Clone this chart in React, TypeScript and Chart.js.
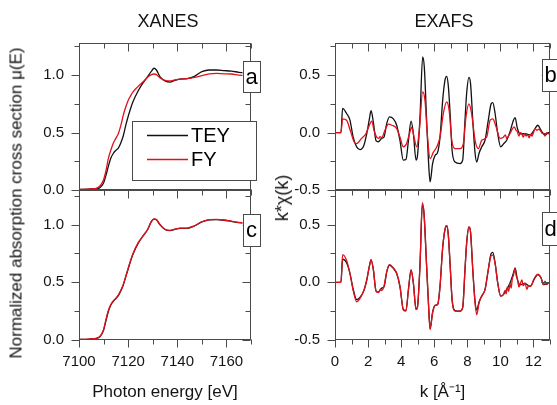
import React, { useEffect, useRef } from 'react';
import { Chart, registerables } from 'chart.js';

Chart.register(...registerables);

const FONT = '"Liberation Sans", Arial, Helvetica, sans-serif';
Chart.defaults.font.family = FONT;

const W = 557;
const H = 405;

// ---------------- DATA ----------------
const seriesNames = ['TEY', 'FY'];
const panelTags = ['a', 'b', 'c', 'd'];
const columnTitles = ['XANES', 'EXAFS'];
const xanesXTitle = 'Photon energy [eV]';
const exafsXTitle = 'k [Å⁻¹]';
const xanesYTitle = 'Normalized absorption cross section μ(E)';
const exafsYTitle = 'k*χ(k)';

// panel a: XANES, TEY vs FY (energy eV, mu)
const xanesA_TEY: [number, number][] = [
  [7100, 0.005], [7104, 0.008], [7107, 0.012], [7108.5, 0.02], [7110, 0.06], [7111, 0.13], [7112, 0.21],
  [7113, 0.28], [7114, 0.32], [7115, 0.345], [7116, 0.365], [7117, 0.41], [7118, 0.47], [7119, 0.56],
  [7120, 0.64], [7121, 0.71], [7122, 0.77], [7124, 0.86], [7126, 0.93], [7128, 0.99], [7129.5, 1.035],
  [7130.5, 1.06], [7131.5, 1.045], [7133, 0.985], [7135, 0.95], [7137, 0.94], [7139, 0.955], [7141, 0.965],
  [7144, 0.97], [7147, 0.99], [7150, 1.03], [7153, 1.045], [7156, 1.045], [7159, 1.04], [7162, 1.035],
  [7165, 1.025], [7169, 1.015],
];
const xanesA_FY: [number, number][] = [
  [7100, 0.005], [7104, 0.008], [7107, 0.015], [7108.5, 0.035], [7110, 0.09], [7111, 0.17], [7112, 0.28],
  [7113, 0.35], [7114, 0.41], [7115, 0.45], [7116, 0.49], [7117, 0.56], [7118, 0.65], [7119, 0.72],
  [7120, 0.78], [7121, 0.82], [7122, 0.855], [7124, 0.9], [7126, 0.94], [7128, 0.985], [7129.5, 1.005],
  [7130.5, 1.01], [7131.5, 1.005], [7133, 0.975], [7135, 0.955], [7137, 0.95], [7139, 0.958], [7141, 0.965],
  [7144, 0.97], [7147, 0.98], [7150, 0.995], [7153, 1.012], [7156, 1.015], [7159, 1.012], [7162, 1.01],
  [7165, 1.0], [7169, 0.995],
];
// panel c: XANES after correction
const xanesC_TEY: [number, number][] = [
  [7100, 0.005], [7104, 0.008], [7107, 0.014], [7108.5, 0.028], [7110, 0.085], [7111, 0.17], [7112, 0.25],
  [7113, 0.305], [7114, 0.335], [7115, 0.36], [7116, 0.385], [7117, 0.425], [7118, 0.475], [7119, 0.545],
  [7120, 0.615], [7121, 0.685], [7122, 0.745], [7124, 0.835], [7126, 0.9], [7128, 0.96], [7129.5, 1.028],
  [7130.5, 1.048], [7131.5, 1.042], [7133, 0.998], [7135, 0.958], [7137, 0.948], [7139, 0.958], [7141, 0.968],
  [7144, 0.968], [7147, 0.988], [7150, 1.023], [7153, 1.041], [7156, 1.043], [7159, 1.038], [7162, 1.028],
  [7165, 1.018], [7169, 1.008],
];
const xanesC_FY: [number, number][] = [
  [7100, 0.005], [7104, 0.008], [7107, 0.015], [7108.5, 0.03], [7110, 0.09], [7111, 0.18], [7112, 0.26],
  [7113, 0.31], [7114, 0.34], [7115, 0.36], [7116, 0.39], [7117, 0.43], [7118, 0.48], [7119, 0.55],
  [7120, 0.62], [7121, 0.69], [7122, 0.75], [7124, 0.84], [7126, 0.9], [7128, 0.96], [7129.5, 1.03],
  [7130.5, 1.05], [7131.5, 1.045], [7133, 1.0], [7135, 0.96], [7137, 0.95], [7139, 0.96], [7141, 0.97],
  [7144, 0.97], [7147, 0.99], [7150, 1.025], [7153, 1.043], [7156, 1.045], [7159, 1.04], [7162, 1.03],
  [7165, 1.02], [7169, 1.01],
];

// panel b: EXAFS k*chi(k), TEY vs FY
const exafsB_TEY: [number, number][] = [
  [0, 0], [0.36, 0], [0.46, 0.21], [0.7, 0.166], [0.9, 0.11], [1.1, -0.04], [1.31, -0.125], [1.51, -0.148],
  [1.75, -0.11], [1.92, -0.01], [2.08, 0.12], [2.18, 0.19], [2.32, 0.09], [2.48, -0.07], [2.62, -0.08],
  [2.82, -0.05], [2.96, -0.04], [3.13, 0.08], [3.3, 0.136], [3.53, 0.12], [3.73, 0.064], [3.93, -0.07],
  [4.13, -0.24], [4.29, -0.235], [4.44, -0.07], [4.6, 0.1], [4.74, -0.01], [4.9, -0.24], [4.98, -0.21],
  [5.14, 0.137], [5.3, 0.66], [5.4, 0.57], [5.54, 0.108], [5.65, -0.24], [5.75, -0.43], [5.9, -0.27],
  [6.05, -0.2], [6.21, -0.17], [6.35, -0.04], [6.51, 0.28], [6.65, 0.456], [6.75, 0.49], [6.85, 0.41],
  [6.96, 0.166], [7.08, -0.154], [7.26, -0.256], [7.56, -0.27], [7.72, -0.24], [7.86, 0.108], [7.96, 0.34],
  [8.1, 0.48], [8.2, 0.42], [8.33, 0.108], [8.47, -0.18], [8.57, -0.256], [8.71, -0.18], [8.87, -0.125],
  [9.07, -0.067], [9.27, 0.108], [9.44, 0.25], [9.54, 0.26], [9.68, 0.166], [9.84, -0.01], [10.02, -0.125],
  [10.18, -0.1], [10.38, -0.067], [10.58, 0.006], [10.79, 0.108], [10.89, 0.13], [11.03, 0.035],
  [11.19, -0.01], [11.49, -0.01], [11.8, -0.02], [12.1, 0.035], [12.26, 0.064], [12.46, 0.02], [12.6, -0.01],
  [12.75, -0.02], [12.9, 0], [13, 0],
];
const exafsB_FY: [number, number][] = [
  [0, 0], [0.36, 0], [0.46, 0.12], [0.7, 0.107], [0.95, 0.006], [1.15, -0.08], [1.31, -0.096], [1.61, -0.05],
  [1.87, -0.01], [2.08, 0.064], [2.22, 0.1], [2.36, 0.02], [2.52, -0.04], [2.65, -0.05], [2.72, -0.035],
  [2.82, -0.045], [3.02, 0.02], [3.23, 0.073], [3.43, 0.064], [3.73, 0.035], [3.93, -0.04], [4.13, -0.125],
  [4.33, -0.096], [4.5, -0.01], [4.64, 0.044], [4.78, -0.04], [4.94, -0.125], [5.1, 0.02], [5.3, 0.355],
  [5.44, 0.28], [5.58, -0.01], [5.75, -0.227], [5.95, -0.17], [6.15, -0.125], [6.35, -0.04], [6.55, 0.166],
  [6.75, 0.267], [6.9, 0.195], [7.06, -0.067], [7.26, -0.14], [7.56, -0.14], [7.76, -0.096], [7.92, 0.137],
  [8.1, 0.25], [8.26, 0.166], [8.47, -0.067], [8.67, -0.14], [8.87, -0.067], [9.17, -0.04], [9.38, 0.108],
  [9.54, 0.12], [9.74, 0.05], [9.98, -0.05], [10.18, -0.04], [10.3, -0.02], [10.38, -0.05], [10.48, -0.03],
  [10.58, -0.01], [10.68, 0.02], [10.83, 0.05], [10.95, 0.02], [11.03, 0.006], [11.12, -0.03], [11.2, 0.0],
  [11.29, -0.01], [11.38, -0.04], [11.47, -0.01], [11.56, -0.03], [11.65, -0.02], [11.74, -0.045],
  [11.83, -0.015], [11.92, -0.03], [12.0, 0.0], [12.1, 0.035], [12.2, 0.02], [12.32, 0.03], [12.4, 0.02],
  [12.5, 0.0], [12.6, -0.01], [12.7, -0.03], [12.8, 0.0], [12.9, -0.01], [13, 0],
];
// panel d: EXAFS after correction
const exafsD_TEY: [number, number][] = [
  [0, 0], [0.36, 0], [0.46, 0.2], [0.7, 0.17], [0.9, 0.08], [1.1, -0.06], [1.31, -0.15], [1.51, -0.13],
  [1.75, -0.07], [1.92, 0.02], [2.08, 0.14], [2.18, 0.195], [2.32, 0.11], [2.48, -0.075], [2.62, -0.085],
  [2.82, -0.05], [2.96, -0.04], [3.13, 0.09], [3.29, 0.15], [3.53, 0.12], [3.73, 0.075], [3.93, -0.04],
  [4.13, -0.235], [4.29, -0.245], [4.44, -0.064], [4.6, 0.105], [4.74, -0.01], [4.9, -0.235], [4.98, -0.22],
  [5.14, 0.15], [5.28, 0.67], [5.38, 0.6], [5.54, 0.14], [5.65, -0.18], [5.75, -0.4], [5.9, -0.26],
  [6.05, -0.2], [6.21, -0.19], [6.35, -0.035], [6.51, 0.3], [6.65, 0.457], [6.75, 0.49], [6.85, 0.413],
  [6.96, 0.153], [7.08, -0.15], [7.26, -0.245], [7.56, -0.25], [7.72, -0.22], [7.86, 0.11], [7.96, 0.34],
  [8.1, 0.48], [8.2, 0.43], [8.33, 0.11], [8.47, -0.17], [8.57, -0.24], [8.71, -0.17], [8.87, -0.12],
  [9.07, -0.064], [9.27, 0.11], [9.44, 0.25], [9.54, 0.26], [9.68, 0.17], [9.84, -0.006], [10.02, -0.12],
  [10.18, -0.107], [10.38, -0.064], [10.58, -0.006], [10.79, 0.08], [10.89, 0.124], [11.03, 0.023],
  [11.19, -0.02], [11.49, -0.01], [11.8, -0.035], [12.1, 0.04], [12.26, 0.066], [12.46, 0.037], [12.6, -0.02],
  [12.9, -0.006], [13, 0],
];
const exafsD_FY: [number, number][] = [
  [0, 0], [0.36, 0], [0.46, 0.24], [0.7, 0.19], [0.9, 0.08], [1.1, -0.07], [1.31, -0.17], [1.51, -0.14],
  [1.75, -0.07], [1.92, 0.02], [2.08, 0.14], [2.18, 0.197], [2.32, 0.11], [2.48, -0.078], [2.62, -0.09],
  [2.75, -0.06], [2.82, -0.07], [2.96, -0.035], [3.13, 0.095], [3.29, 0.153], [3.53, 0.124], [3.73, 0.08],
  [3.93, -0.035], [4.13, -0.24], [4.29, -0.25], [4.44, -0.064], [4.6, 0.11], [4.74, -0.006], [4.9, -0.237],
  [4.98, -0.22], [5.14, 0.153], [5.28, 0.69], [5.38, 0.6], [5.54, 0.14], [5.65, -0.18], [5.75, -0.41],
  [5.9, -0.266], [6.05, -0.2], [6.21, -0.19], [6.35, -0.035], [6.51, 0.3], [6.65, 0.457], [6.75, 0.49],
  [6.85, 0.413], [6.96, 0.153], [7.08, -0.15], [7.26, -0.25], [7.56, -0.25], [7.72, -0.22], [7.86, 0.11],
  [7.96, 0.34], [8.1, 0.48], [8.2, 0.43], [8.33, 0.11], [8.47, -0.18], [8.57, -0.28], [8.71, -0.18],
  [8.87, -0.12], [9.07, -0.064], [9.27, 0.11], [9.44, 0.23], [9.54, 0.235], [9.68, 0.16], [9.84, -0.006],
  [10.02, -0.12], [10.18, -0.107], [10.28, -0.07], [10.35, -0.1], [10.42, -0.04], [10.5, -0.08], [10.58, -0.01],
  [10.65, -0.05], [10.72, 0.03], [10.79, 0.06], [10.89, 0.12], [10.95, 0.06], [11.03, 0.03], [11.12, -0.04],
  [11.19, -0.02], [11.3, 0.02], [11.38, -0.03], [11.49, -0.006], [11.6, -0.06], [11.7, -0.03], [11.8, -0.035],
  [11.9, -0.02], [12.0, 0.02], [12.1, 0.046], [12.26, 0.07], [12.46, 0.04], [12.6, -0.02], [12.7, 0.01],
  [12.8, -0.02], [12.9, -0.006], [13, 0],
];

// axis ranges and ticks
const xanesXRange = [7100, 7170];
const xanesXMajor = 20;
const xanesXMinor = 10;
const exafsXRange = [0, 13];
const exafsXMajor = 2;
const exafsXMinor = 1;
const xanesYRangeTop = [0, 1.28];
const xanesYRangeBottom = [0, 1.3];
const exafsYRangeTop = [-0.5, 0.78];
const exafsYRangeBottom = [-0.5, 0.8];
const yMajor = 0.5;
const yMinor = 0.25;

const COLORS = ['#111111', '#e3101a'];
const FRAME = '#4a4a4a';
const TEXT = '#141414';

type Area = { l: number; t: number; r: number; b: number };
type Spec = {
  area: Area;
  xRange: number[];
  xMajor: number;
  xMinor: number;
  yRange: number[];
  showX: boolean;
  xTitle?: string;
  series: [number, number][][];
  tag: string;
  tagTop: number;
  tagH: number;
  legend?: boolean;
  yFmt: (v: number) => string;
};

const specs: Spec[] = [
  {
    area: { l: 79, t: 43, r: 251, b: 190 }, xRange: xanesXRange, xMajor: xanesXMajor, xMinor: xanesXMinor,
    yRange: xanesYRangeTop, showX: false, series: [xanesA_TEY, xanesA_FY], tag: panelTags[0], tagTop: 61, tagH: 31,
    legend: true, yFmt: (v) => v.toFixed(1),
  },
  {
    area: { l: 335, t: 43, r: 550, b: 190 }, xRange: exafsXRange, xMajor: exafsXMajor, xMinor: exafsXMinor,
    yRange: exafsYRangeTop, showX: false, series: [exafsB_TEY, exafsB_FY], tag: panelTags[1], tagTop: 59, tagH: 32,
    yFmt: (v) => v.toFixed(1),
  },
  {
    area: { l: 79, t: 190, r: 251, b: 340 }, xRange: xanesXRange, xMajor: xanesXMajor, xMinor: xanesXMinor,
    yRange: xanesYRangeBottom, showX: true, xTitle: xanesXTitle, series: [xanesC_TEY, xanesC_FY], tag: panelTags[2],
    tagTop: 214, tagH: 32, yFmt: (v) => v.toFixed(1),
  },
  {
    area: { l: 335, t: 190, r: 550, b: 340 }, xRange: exafsXRange, xMajor: exafsXMajor, xMinor: exafsXMinor,
    yRange: exafsYRangeBottom, showX: true, xTitle: exafsXTitle, series: [exafsD_TEY, exafsD_FY], tag: panelTags[3],
    tagTop: 212, tagH: 33, yFmt: (v) => v.toFixed(1),
  },
];

function makePlugin(spec: Spec) {
  return {
    id: 'panelDecor',
    afterDraw(chart: any) {
      const { ctx, chartArea: a, scales } = chart;
      const xs = scales.x;
      const ys = scales.y;
      const L = Math.round(a.left) + 0.5;
      const R = Math.round(a.right) - 0.5;
      const T = Math.round(a.top) + 0.5;
      const B = Math.round(a.bottom) - 0.5;
      ctx.save();
      ctx.strokeStyle = FRAME;
      ctx.lineWidth = 1;
      ctx.strokeRect(L, T, R - L, B - T);
      const majLen = 8;
      const minLen = 5;
      const eps = 1e-6;
      const isMaj = (v: number, step: number) => Math.abs(v / step - Math.round(v / step)) < 1e-6;
      ctx.beginPath();
      const xStart = Math.ceil((xs.min - eps) / spec.xMinor) * spec.xMinor;
      for (let v = xStart; v <= xs.max + eps; v += spec.xMinor) {
        const px = Math.round(xs.getPixelForValue(v)) + 0.5;
        const len = isMaj(v, spec.xMajor) ? majLen : minLen;
        ctx.moveTo(px, B); ctx.lineTo(px, B + len);
        ctx.moveTo(px, T); ctx.lineTo(px, T + len);
      }
      const yStart = Math.ceil((ys.min - eps) / yMinor) * yMinor;
      for (let v = yStart; v <= ys.max + eps; v += yMinor) {
        const py = Math.round(ys.getPixelForValue(v)) + 0.5;
        const len = isMaj(v, yMajor) ? majLen : minLen;
        ctx.moveTo(L, py); ctx.lineTo(L - len, py);
        ctx.moveTo(R, py); ctx.lineTo(R - len, py);
      }
      ctx.stroke();

      // panel tag box
      const tw = 17;
      const tx = Math.round(a.right) - tw / 2;
      ctx.fillStyle = '#ffffff';
      ctx.fillRect(tx, spec.tagTop, tw, spec.tagH);
      ctx.strokeStyle = FRAME;
      ctx.strokeRect(Math.round(tx) + 0.5, spec.tagTop + 0.5, tw, spec.tagH);
      ctx.fillStyle = '#000000';
      ctx.font = `22px ${FONT}`;
      ctx.textAlign = 'center';
      ctx.textBaseline = 'middle';
      ctx.fillText(spec.tag, tx + tw / 2 + 0.5, spec.tagTop + spec.tagH / 2 + 1);

      // legend
      if (spec.legend) {
        const bx = 132, by = 121, bw = 124, bh = 59;
        ctx.fillStyle = '#ffffff';
        ctx.fillRect(bx, by, bw, bh);
        ctx.strokeStyle = FRAME;
        ctx.strokeRect(bx + 0.5, by + 0.5, bw, bh);
        const ds = chart.data.datasets;
        ds.forEach((d: any, i: number) => {
          const ly = by + 14.5 + i * 24;
          ctx.strokeStyle = d.borderColor;
          ctx.lineWidth = 1.4;
          ctx.beginPath();
          ctx.moveTo(147, ly);
          ctx.lineTo(188, ly);
          ctx.stroke();
          ctx.fillStyle = '#000000';
          ctx.font = `20px ${FONT}`;
          ctx.textAlign = 'left';
          ctx.textBaseline = 'middle';
          ctx.fillText(d.label, 191, ly + 1);
        });
      }
      ctx.restore();
    },
  };
}

function Panel({ spec }: { spec: Spec }) {
  const ref = useRef<HTMLCanvasElement>(null);
  useEffect(() => {
    if (!ref.current) return;
    const a = spec.area;
    const chart = new Chart(ref.current, {
      type: 'line',
      data: {
        datasets: spec.series.map((s, i) => ({
          label: seriesNames[i],
          data: s.map(([x, y]) => ({ x, y })),
          borderColor: COLORS[i],
          backgroundColor: COLORS[i],
          borderWidth: 1.3,
          pointRadius: 0,
          fill: false,
          cubicInterpolationMode: 'monotone' as const,
          order: i === 1 ? 0 : 1,
        })),
      },
      options: {
        responsive: false,
        animation: false,
        events: [],
        layout: { autoPadding: false, padding: { left: 0, top: a.t, right: W - a.r, bottom: 0 } },
        plugins: { legend: { display: false }, tooltip: { enabled: false }, title: { display: false } },
        scales: {
          x: {
            type: 'linear',
            position: 'bottom',
            min: spec.xRange[0],
            max: spec.xRange[1],
            grid: { display: false, drawTicks: false },
            border: { display: false },
            ticks: {
              display: spec.showX,
              stepSize: spec.xMajor,
              includeBounds: false,
              autoSkip: false,
              maxRotation: 0,
              padding: 13,
              color: TEXT,
              font: { size: 15 },
              callback: (v: any) => String(v),
            },
            title: spec.xTitle
              ? { display: true, text: spec.xTitle, color: TEXT, font: { size: 17 }, padding: { top: 0, bottom: 2 } }
              : { display: false },
            afterFit: (s: any) => { s.height = H - a.b; },
          },
          y: {
            type: 'linear',
            position: 'left',
            min: spec.yRange[0],
            max: spec.yRange[1],
            grid: { display: false, drawTicks: false },
            border: { display: false },
            ticks: {
              stepSize: yMajor,
              includeBounds: false,
              padding: 15,
              color: TEXT,
              font: { size: 15 },
              callback: (v: any) => spec.yFmt(Number(v)),
            },
            afterFit: (s: any) => { s.width = a.l; },
          },
        },
      },
      plugins: [makePlugin(spec)],
    } as any);
    return () => chart.destroy();
  }, [spec]);
  return (
    <canvas ref={ref} width={W} height={H} style={{ position: 'absolute', left: 0, top: 0, width: W, height: H }} />
  );
}

function Label({ text, cx, cy, size, rotate }: { text: string; cx: number; cy: number; size: number; rotate?: boolean }) {
  return (
    <div
      style={{
        position: 'absolute',
        left: cx,
        top: cy,
        transform: `translate(-50%, -50%)${rotate ? ' rotate(-90deg)' : ''}`,
        fontFamily: FONT,
        fontSize: size,
        lineHeight: 1,
        whiteSpace: 'nowrap',
        color: TEXT,
      }}
    >
      {text}
    </div>
  );
}

export default function App() {
  return (
    <div style={{ position: 'absolute', left: 0, top: 0, width: W, height: H, background: '#ffffff', overflow: 'hidden' }}>
      {specs.map((s, i) => (
        <Panel key={i} spec={s} />
      ))}
      <Label text={columnTitles[0]} cx={168} cy={21} size={18} />
      <Label text={columnTitles[1]} cx={444} cy={21} size={18} />
      <Label text={xanesYTitle} cx={16} cy={203} size={17} rotate />
      <Label text={exafsYTitle} cx={282} cy={198} size={18} rotate />
    </div>
  );
}
